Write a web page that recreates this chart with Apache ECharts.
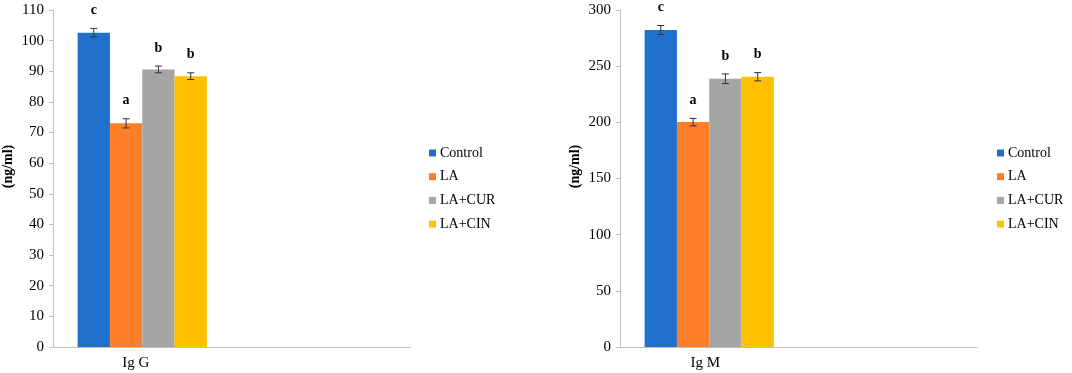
<!DOCTYPE html>
<html lang="en">
<head>
    <meta charset="UTF-8" />
    <title>Ig G / Ig M</title>
    <script src="https://cdn.jsdelivr.net/npm/echarts@6/dist/echarts.min.js"></script>
    <style>
        html, body { margin: 0; padding: 0; background: #fff; }
    </style>
</head>
<body>
    <div style="width: 1072px; height: 373px" id="chart"></div>
    <script>
        const myChart = echarts.init(document.getElementById("chart"));

        // groups (legend) and colours
        const groups = ["Control", "LA", "LA+CUR", "LA+CIN"];
        const colors = ["#1f6fcc", "#fd7f2a", "#a5a5a5", "#ffc000"];

        // panel 1: Ig G
        const catG = ["Ig G", ""];
        const igG = [102.6, 73.0, 90.6, 88.4];
        const igGErr = [1.4, 1.5, 1.1, 1.1];
        const igGLetters = ["c", "a", "b", "b"];
        const ticksG = { min: 0, max: 110, interval: 10 };

        // panel 2: Ig M
        const catM = ["Ig M", ""];
        const igM = [282.2, 200.2, 238.8, 240.6];
        const igMErr = [4.0, 3.3, 4.3, 3.7];
        const igMLetters = ["c", "a", "b", "b"];
        const ticksM = { min: 0, max: 300, interval: 50 };

        const serif = "'Liberation Serif', 'DejaVu Serif', serif";
        const gapRatio = 0.276; // barCategoryGap

        // 误差线 + 显著性字母
        function errorSeries(gridIdx, vals, errs, letters) {
            const data = vals.map((v, i) => [0, i, v - errs[i], v + errs[i]]);
            return {
                type: "custom",
                xAxisIndex: gridIdx,
                yAxisIndex: gridIdx,
                silent: true,
                z: 10,
                data: data,
                renderItem: function (params, api) {
                    const cat = api.value(0);
                    const idx = api.value(1);
                    const center = api.coord([cat, 0])[0];
                    const band = api.size([1, 0])[0];
                    const barW = (band * (1 - gapRatio)) / groups.length;
                    const x = center + (idx - (groups.length - 1) / 2) * barW;
                    const yLow = api.coord([cat, api.value(2)])[1];
                    const yHigh = api.coord([cat, api.value(3)])[1];
                    const cap = 3.5;
                    const st = { stroke: "#333", lineWidth: 1 };
                    return {
                        type: "group",
                        children: [
                            { type: "line", shape: { x1: x, y1: yLow, x2: x, y2: yHigh }, style: st },
                            { type: "line", shape: { x1: x - cap, y1: yLow, x2: x + cap, y2: yLow }, style: st },
                            { type: "line", shape: { x1: x - cap, y1: yHigh, x2: x + cap, y2: yHigh }, style: st },
                            {
                                type: "text",
                                style: {
                                    x: x,
                                    y: yHigh - 18,
                                    text: letters[params.dataIndex],
                                    fill: "#000",
                                    font: "bold 14px " + serif,
                                    align: "center",
                                    verticalAlign: "middle",
                                },
                            },
                        ],
                    };
                },
            };
        }

        function barSeries(gridIdx, vals) {
            return groups.map((g, i) => ({
                name: g,
                type: "bar",
                xAxisIndex: gridIdx,
                yAxisIndex: gridIdx,
                barGap: "0%",
                barCategoryGap: gapRatio * 100 + "%",
                itemStyle: { color: colors[i] },
                data: [vals[i], "-"],
            }));
        }

        function xAxisOf(gridIdx, cats, shift) {
            return {
                type: "category",
                gridIndex: gridIdx,
                data: cats,
                axisLine: { lineStyle: { color: "#bfbfbf", width: 1 } },
                axisTick: { show: false },
                axisLabel: {
                    interval: 0,
                    margin: 9,
                    color: "#000",
                    fontSize: 15,
                    fontFamily: serif,
                    padding: [0, shift, 0, 0],
                },
            };
        }

        function yAxisOf(gridIdx, t) {
            return {
                type: "value",
                gridIndex: gridIdx,
                min: t.min,
                max: t.max,
                interval: t.interval,
                name: "(ng/ml)",
                nameLocation: "middle",
                nameGap: 38,
                nameTextStyle: {
                    color: "#000",
                    fontSize: 14,
                    fontWeight: "bold",
                    fontFamily: serif,
                    padding: [0, 0, 0, 24],
                },
                axisLine: { show: true, lineStyle: { color: "#bfbfbf", width: 1 } },
                axisTick: { show: true, length: 4, lineStyle: { color: "#bfbfbf" } },
                splitLine: { show: false },
                axisLabel: { margin: 9, color: "#000", fontSize: 15, fontFamily: serif },
            };
        }

        function legendOf(left) {
            return {
                data: groups,
                orient: "vertical",
                left: left,
                top: 141,
                icon: "rect",
                itemWidth: 7,
                itemHeight: 7,
                itemGap: 9.7,
                textStyle: { color: "#000", fontSize: 14, fontFamily: serif, lineHeight: 14, padding: [0, 0, 0, -1] },
            };
        }

        const option = {
            backgroundColor: "#fff",
            animation: false,
            legend: [legendOf(424), legendOf(992)],
            grid: [
                { left: 51, right: 662, top: 10, bottom: 26 },
                { left: 620, right: 95, top: 10, bottom: 26 },
            ],
            xAxis: [xAxisOf(0, catG, 13), xAxisOf(1, catM, 8)],
            yAxis: [yAxisOf(0, ticksG), yAxisOf(1, ticksM)],
            series: [
                ...barSeries(0, igG),
                ...barSeries(1, igM),
                errorSeries(0, igG, igGErr, igGLetters),
                errorSeries(1, igM, igMErr, igMLetters),
            ],
        };

        myChart.setOption(option);
    </script>
</body>
</html>
